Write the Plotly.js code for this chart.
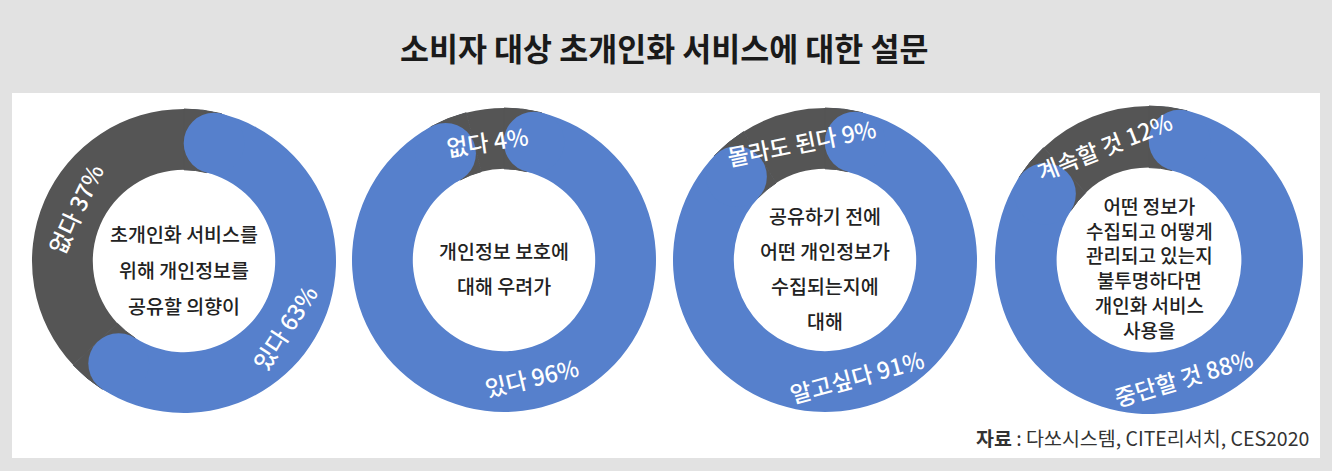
<!DOCTYPE html>
<html>
<head>
<meta charset="utf-8">
<script src="https://cdn.plot.ly/plotly-3.0.1.min.js"></script>
<style>
html,body{margin:0;padding:0;background:#e2e2e2;}
#chart{width:1332px;height:471px;}
</style>
</head>
<body>
<div id="chart"></div>
<script>
// ---------------- DATA ----------------
const chartTitle = '소비자 대상 초개인화 서비스에 대한 설문';
const questions = [
  ['초개인화 서비스를', '위해 개인정보를', '공유할 의향이'],
  ['개인정보 보호에', '대해 우려가'],
  ['공유하기 전에', '어떤 개인정보가', '수집되는지에', '대해'],
  ['어떤 정보가', '수집되고 어떻게', '관리되고 있는지', '불투명하다면', '개인화 서비스', '사용을']
];
const answerLabels = ['있다', '있다', '알고싶다', '중단할 것'];
const answerValues = [63, 96, 91, 88];
const otherLabels = ['없다', '없다', '몰라도 된다', '계속할 것'];
const otherValues = [37, 4, 9, 12];
const sourceText = '<b>자료</b> : 다쏘시스템, CITE리서치, CES2020';

// ---------------- STYLE / GEOMETRY ----------------
const W = 1332, H = 471;
const BLUE = '#5680cc', DARK = '#555555', BG = '#e2e2e2';
const FONT = '"Noto Sans CJK KR", "Noto Sans", sans-serif';
const centersX = [184, 504, 825, 1149];
const centersY = [261, 260, 260, 260];
const radii = [152, 152, 152, 154];
const HOLE = 0.6;
const lineGap = [36, 35, 35.3, 0];   // 0 = one block with normal line spacing
const centerFontSize = [19.5, 19.5, 19.5, 19];
const textShift = 8;
// small angular nudges of the ring labels (degrees) [answer, other]
const labelNudge = [[10, 2], [-6, -1], [1, 5], [5, 0]];

const px2x = p => p / W;
const py2y = p => 1 - p / H;

const traces = [];
const shapes = [{
  type: 'rect', xref: 'paper', yref: 'paper', layer: 'below',
  x0: px2x(12), x1: px2x(1320), y0: py2y(458), y1: py2y(93),
  fillcolor: '#ffffff', line: {width: 0}
}];
const annotations = [];

answerValues.forEach((val, i) => {
  const oth = otherValues[i];
  const cx = centersX[i], cy = centersY[i], R = radii[i];
  const domain = {
    x: [px2x(cx - R), px2x(cx + R)],
    y: [py2y(cy + R), py2y(cy - R)]
  };
  // base donut with the real values
  traces.push({
    type: 'pie', values: [val, oth], labels: [answerLabels[i], otherLabels[i]],
    domain, hole: HOLE, sort: false, direction: 'clockwise', rotation: 0,
    marker: {colors: [BLUE, DARK], line: {width: 0}},
    textinfo: 'none', hoverinfo: 'label+percent', showlegend: false
  });
  // round caps for the blue arc
  const rIn = R * HOLE, w = R - rIn, rm = (R + rIn) / 2;
  const capDeg = (w / 2) / rm * 180 / Math.PI;
  const tot = val + oth;
  const capVal = capDeg / 360 * tot;
  traces.push({
    type: 'pie', values: [capVal, val - 2 * capVal, capVal, oth],
    labels: ['a', 'b', 'c', 'd'],
    domain, hole: HOLE, sort: false, direction: 'clockwise', rotation: 0,
    marker: {colors: [DARK, 'rgba(0,0,0,0)', DARK, 'rgba(0,0,0,0)'],
             line: {width: 1, color: [DARK, 'rgba(0,0,0,0)', DARK, 'rgba(0,0,0,0)']}},
    textinfo: 'none', hoverinfo: 'skip', showlegend: false
  });
  const blueDeg = val / tot * 360;
  [capDeg, blueDeg - capDeg].forEach(a => {
    const t = a * Math.PI / 180;
    const px = cx + rm * Math.sin(t), py = cy - rm * Math.cos(t);
    shapes.push({
      type: 'circle', xref: 'paper', yref: 'paper', layer: 'above',
      x0: px2x(px - w / 2), x1: px2x(px + w / 2),
      y0: py2y(py + w / 2), y1: py2y(py - w / 2),
      fillcolor: BLUE, line: {width: 0}
    });
  });
  // slice labels along the ring
  const labelItems = [
    {text: answerLabels[i] + ' ' + val + '%', ang: blueDeg / 2 + labelNudge[i][0]},
    {text: otherLabels[i] + ' ' + oth + '%', ang: blueDeg + (oth / tot * 360) / 2 + labelNudge[i][1]}
  ];
  labelItems.forEach(it => {
    let a = ((it.ang % 360) + 360) % 360;
    const t = a * Math.PI / 180;
    const rr = rm - 1;
    const px = cx + rr * Math.sin(t), py = cy - rr * Math.cos(t);
    let rot = (a > 90 && a < 270) ? a - 180 : (a >= 270 ? a - 360 : a);
    annotations.push({
      xref: 'paper', yref: 'paper', x: px2x(px), y: py2y(py),
      xanchor: 'center', yanchor: 'middle', showarrow: false,
      text: it.text, textangle: rot,
      font: {family: FONT, size: 23, color: '#ffffff', weight: 500}
    });
  });
  // center question text
  const lines = questions[i];
  const n = lines.length;
  const cfont = {family: FONT, size: centerFontSize[i], color: '#222222', weight: 500};
  if (lineGap[i] > 0) {
    lines.forEach((ln, k) => {
      const py = cy + textShift + (k - (n - 1) / 2) * lineGap[i];
      annotations.push({
        xref: 'paper', yref: 'paper', x: px2x(cx), y: py2y(py),
        xanchor: 'center', yanchor: 'middle', showarrow: false,
        text: ln, font: cfont
      });
    });
  } else {
    annotations.push({
      xref: 'paper', yref: 'paper', x: px2x(cx), y: py2y(cy + textShift - 1),
      xanchor: 'center', yanchor: 'middle', showarrow: false, align: 'center',
      text: lines.join('<br>'), font: cfont
    });
  }
});

annotations.push({
  xref: 'paper', yref: 'paper', x: px2x(664), y: py2y(47),
  xanchor: 'center', yanchor: 'middle', showarrow: false,
  text: chartTitle, font: {family: FONT, size: 31.5, color: '#1a1a1a', weight: 700}
});
annotations.push({
  xref: 'paper', yref: 'paper', x: px2x(1311), y: py2y(437),
  xanchor: 'right', yanchor: 'middle', showarrow: false,
  text: sourceText, font: {family: FONT, size: 19.5, color: '#333333'}
});

const layout = {
  width: W, height: H,
  margin: {l: 0, r: 0, t: 0, b: 0, pad: 0},
  paper_bgcolor: BG, plot_bgcolor: BG,
  showlegend: false,
  shapes, annotations
};
Plotly.newPlot('chart', traces, layout, {displayModeBar: false, staticPlot: true});
</script>
</body>
</html>
